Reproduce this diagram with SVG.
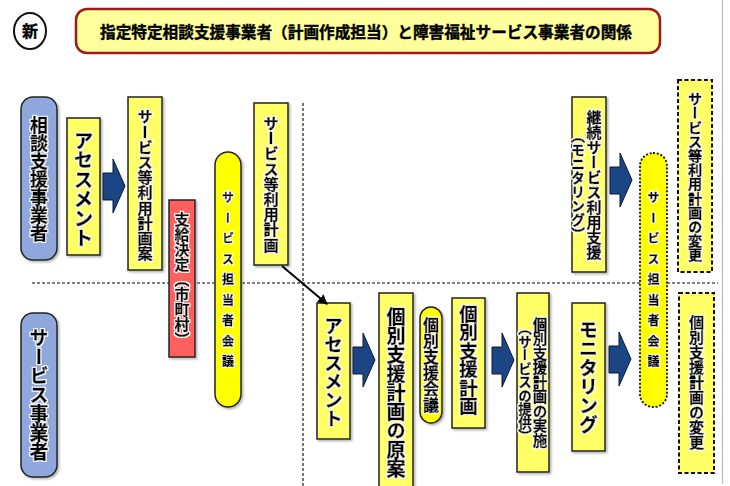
<svg xmlns="http://www.w3.org/2000/svg" width="730" height="486" viewBox="0 0 730 486">
<style>
.bx{fill:#FFFF66;stroke:#222;stroke-width:1.5;filter:url(#sh)}
.dash{fill:#FFFF66;stroke:#111;stroke-width:2;stroke-dasharray:4 2.5}
.blue{fill:#8EA8DE;stroke:#222;stroke-width:1.5;filter:url(#sh)}
.red{fill:#FF5F5F;stroke:#222;stroke-width:1.5;filter:url(#sh)}
.yel{fill:#FFFF00;stroke:#222;stroke-width:1.5;filter:url(#sh)}
.ydot{fill:#FFFF00;stroke:#111;stroke-width:1.8;stroke-dasharray:2 1.8}
.v{font-family:"Noto Sans CJK JP","Noto Sans CJK SC",sans-serif;font-weight:bold;fill:#000;writing-mode:vertical-rl;text-anchor:middle;stroke:#000;stroke-width:0.6;stroke-linejoin:round;filter:url(#halo)}
.h{font-family:"Noto Sans CJK JP","Noto Sans CJK SC",sans-serif;font-weight:bold;fill:#000;stroke:#000;stroke-width:0.4}
.sep{stroke:#555;stroke-width:1.6;stroke-dasharray:3 2;fill:none}
.blk{fill:#1B4585;stroke:#0A1A33;stroke-width:1}
</style>
<defs>
<filter id="sh" x="-20%" y="-20%" width="150%" height="150%">
<feDropShadow dx="1.5" dy="1.5" stdDeviation="0.8" flood-color="#777" flood-opacity="0.6"/>
</filter>
<filter id="halo" x="-40%" y="-10%" width="180%" height="120%">
<feMorphology in="SourceAlpha" operator="dilate" radius="1.3" result="d"/>
<feFlood flood-color="#fff"/>
<feComposite in2="d" operator="in" result="w"/>
<feMerge><feMergeNode in="w"/><feMergeNode in="SourceGraphic"/></feMerge>
</filter>
<path id="blkarrow" class="blk" d="M0,14 H10 V0 L22,27 L10,54 V41 H0 Z"/>
<marker id="ah" viewBox="0 0 10 10" refX="9" refY="5" markerWidth="5" markerHeight="5" orient="auto">
<path d="M0,0 L10,5 L0,10 Z" fill="#000"/>
</marker>
</defs>
<rect width="730" height="486" fill="#fff"/>
<line x1="722.5" y1="0" x2="722.5" y2="484" stroke="#bbb" stroke-width="1.2"/>

<g id="new-mark">
<ellipse cx="30" cy="31" rx="16" ry="18" fill="#fff" stroke="#111" stroke-width="2"/>
<text class="h" x="30" y="37" font-size="16" text-anchor="middle">新</text>
</g>
<g id="title">
<rect x="76" y="9" width="584" height="44" rx="11" fill="#FFFF9C" stroke="#A01818" stroke-width="2.5"/>
<text class="h" x="366" y="38" font-size="15.5" text-anchor="middle" textLength="532" lengthAdjust="spacingAndGlyphs">指定特定相談支援事業者（計画作成担当）と障害福祉サービス事業者の関係</text>
</g>

<g id="separators">
<line class="sep" x1="32" y1="283" x2="718" y2="283"/>
<line class="sep" x1="303" y1="103" x2="303" y2="486"/>
</g>

<g id="soudan-jigyousha">
<rect class="blue" x="21" y="97" width="36" height="163" rx="12"/>
<text class="v" x="39" y="179" font-size="18">相談支援事業者</text>
</g>
<g id="service-jigyousha">
<rect class="blue" x="21" y="313" width="36" height="164" rx="12"/>
<text class="v" x="39" y="395" font-size="19">サービス事業者</text>
</g>

<g id="assessment-1">
<rect class="bx" x="67" y="118" width="33" height="137"/>
<text class="v" x="83.5" y="189" font-size="19.5">アセスメント</text>
</g>
<g id="plan-draft">
<rect class="bx" x="128" y="97" width="34" height="173"/>
<text class="v" x="145" y="185" font-size="15.2">サービス等利用計画案</text>
</g>
<g id="shikyu-kettei">
<rect class="red" x="169" y="200" width="26" height="157"/>
<text class="v" x="182" y="279" font-size="15">支給決定（市町村）</text>
</g>
<g id="tantousha-kaigi-1">
<rect class="yel" x="215" y="152" width="26" height="255" rx="13"/>
<text class="v" x="228" y="284" font-size="12" letter-spacing="8.5">サービス担当者会議</text>
</g>
<g id="service-plan">
<rect class="bx" x="254" y="103" width="34" height="162"/>
<text class="v" x="271" y="184" font-size="15.2">サービス等利用計画</text>
</g>
<g id="monitoring-1">
<rect class="bx" x="572" y="97" width="34" height="175"/>
<text class="v" x="594" y="185" font-size="15">継続サービス利用支援</text>
<text class="v" x="578" y="185" font-size="14">（モニタリング）</text>
</g>
<g id="tantousha-kaigi-2">
<rect class="ydot" x="640" y="153" width="27" height="254" rx="13"/>
<text class="v" x="653.5" y="284" font-size="12" letter-spacing="8.5">サービス担当者会議</text>
</g>
<g id="plan-change">
<rect class="dash" x="678" y="80" width="34" height="192"/>
<text class="v" x="695" y="177" font-size="14.2">サービス等利用計画の変更</text>
</g>

<g id="assessment-2">
<rect class="bx" x="317" y="303" width="33" height="136"/>
<text class="v" x="333.5" y="372" font-size="18.5">アセスメント</text>
</g>
<g id="kobetsu-gen-an">
<rect class="bx" x="379" y="293" width="34" height="195"/>
<text class="v" x="396" y="393" font-size="19">個別支援計画の原案</text>
</g>
<g id="kobetsu-kaigi">
<rect class="yel" x="420" y="307" width="22" height="116" rx="11"/>
<text class="v" x="431" y="365" font-size="16">個別支援会議</text>
</g>
<g id="kobetsu-keikaku">
<rect class="bx" x="452" y="298" width="33" height="130"/>
<text class="v" x="468.5" y="360" font-size="18.5">個別支援計画</text>
</g>
<g id="jisshi">
<rect class="bx" x="517" y="293" width="32" height="179"/>
<text class="v" x="540" y="382" font-size="14.5">個別支援計画の実施</text>
<text class="v" x="525" y="382" font-size="13.5">（サービスの提供）</text>
</g>
<g id="monitoring-2">
<rect class="bx" x="572" y="303" width="33" height="148"/>
<text class="v" x="588.5" y="377" font-size="19">モニタリング</text>
</g>
<g id="kobetsu-change">
<rect class="dash" x="679" y="293" width="35" height="180"/>
<text class="v" x="696.5" y="382" font-size="15">個別支援計画の変更</text>
</g>

<g id="connectors">
<use href="#blkarrow" x="103" y="159"/>
<use href="#blkarrow" x="353" y="333"/>
<use href="#blkarrow" x="492" y="333"/>
<use href="#blkarrow" x="609" y="332"/>
<use href="#blkarrow" x="610" y="153"/>
<line x1="282" y1="266" x2="327" y2="304" stroke="#000" stroke-width="2" marker-end="url(#ah)"/>
</g>
</svg>
